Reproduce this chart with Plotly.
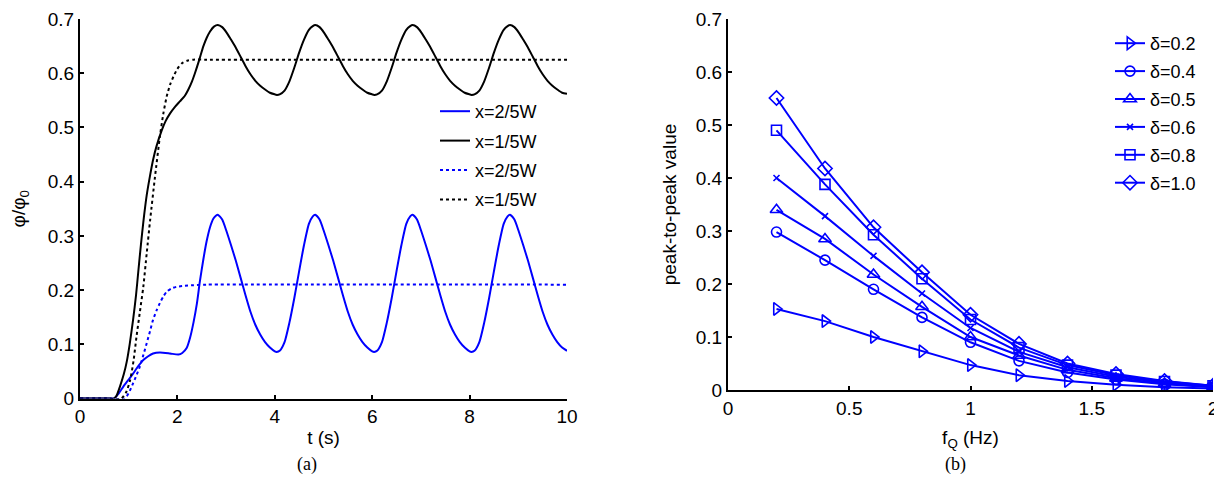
import plotly.graph_objects as go

# ---------------- Panel (a) data ----------------
t_black_solid = [0, 0.3, 0.6, 0.70, 0.75, 0.82, 0.90, 0.96, 1.02, 1.09, 1.15, 1.20, 1.25, 1.30, 1.37, 1.44, 1.50, 1.57, 1.68,
                 1.76, 1.85, 1.95, 2.05, 2.15, 2.22, 2.30, 2.36, 2.45, 2.53, 2.60, 2.67, 2.75, 2.83,
                 2.92, 3.01, 3.10, 3.20, 3.30, 3.40, 3.50, 3.60, 3.70, 3.80, 3.90, 4.00, 4.04, 4.10, 4.20, 4.30, 4.40, 4.50, 4.60, 4.70, 4.78, 4.83,
                 4.92, 5.01, 5.10, 5.20, 5.30, 5.40, 5.50, 5.60, 5.70, 5.80, 5.90, 6.00, 6.04, 6.10, 6.20, 6.30, 6.40, 6.50, 6.60, 6.70, 6.78, 6.83,
                 6.92, 7.01, 7.10, 7.20, 7.30, 7.40, 7.50, 7.60, 7.70, 7.80, 7.90, 8.00, 8.04, 8.10, 8.20, 8.30, 8.40, 8.50, 8.60, 8.70, 8.78, 8.83,
                 8.92, 9.01, 9.10, 9.20, 9.30, 9.40, 9.50, 9.60, 9.70, 9.80, 9.90, 10.0]
v_black_solid = [0, 0, 0, 0.0, 0.005, 0.022, 0.045, 0.068, 0.100, 0.145, 0.190, 0.237, 0.283, 0.325, 0.375, 0.412, 0.440, 0.465, 0.495,
                 0.512, 0.526, 0.538, 0.548, 0.558, 0.569, 0.585, 0.600, 0.625, 0.649, 0.665, 0.677, 0.686, 0.689,
                 0.685, 0.675, 0.662, 0.647, 0.630, 0.613, 0.598, 0.586, 0.577, 0.570, 0.564, 0.561, 0.560, 0.561, 0.568, 0.585, 0.610, 0.638, 0.662, 0.680, 0.687, 0.689,
                 0.685, 0.675, 0.662, 0.647, 0.630, 0.613, 0.598, 0.586, 0.577, 0.570, 0.564, 0.561, 0.560, 0.561, 0.568, 0.585, 0.610, 0.638, 0.662, 0.680, 0.687, 0.689,
                 0.685, 0.675, 0.662, 0.647, 0.630, 0.613, 0.598, 0.586, 0.577, 0.570, 0.564, 0.561, 0.560, 0.561, 0.568, 0.585, 0.610, 0.638, 0.662, 0.680, 0.687, 0.689,
                 0.685, 0.675, 0.662, 0.647, 0.630, 0.613, 0.598, 0.586, 0.577, 0.570, 0.564, 0.562]

t_blue_solid = [0, 0.3, 0.6, 0.70, 0.80, 0.89, 1.00, 1.09, 1.20, 1.30, 1.40, 1.50, 1.64, 1.85, 2.02, 2.10, 2.19, 2.26, 2.33, 2.40, 2.46, 2.53, 2.60, 2.67, 2.74, 2.79, 2.83,
                2.92, 3.01, 3.10, 3.20, 3.30, 3.40, 3.50, 3.60, 3.70, 3.80, 3.90, 4.00, 4.04, 4.10, 4.20, 4.30, 4.40, 4.50, 4.60, 4.70, 4.78, 4.83,
                4.92, 5.01, 5.10, 5.20, 5.30, 5.40, 5.50, 5.60, 5.70, 5.80, 5.90, 6.00, 6.04, 6.10, 6.20, 6.30, 6.40, 6.50, 6.60, 6.70, 6.78, 6.83,
                6.92, 7.01, 7.10, 7.20, 7.30, 7.40, 7.50, 7.60, 7.70, 7.80, 7.90, 8.00, 8.04, 8.10, 8.20, 8.30, 8.40, 8.50, 8.60, 8.70, 8.78, 8.83,
                8.92, 9.01, 9.10, 9.20, 9.30, 9.40, 9.50, 9.60, 9.70, 9.80, 9.90, 10.0]
v_blue_solid = [0, 0, 0, 0.0, 0.010, 0.022, 0.035, 0.046, 0.060, 0.071, 0.078, 0.083, 0.085, 0.083, 0.081, 0.084, 0.093, 0.112, 0.140, 0.175, 0.215, 0.255, 0.290, 0.316, 0.332, 0.337, 0.339,
                0.330, 0.308, 0.283, 0.254, 0.222, 0.190, 0.160, 0.136, 0.118, 0.104, 0.094, 0.087, 0.086, 0.088, 0.104, 0.140, 0.185, 0.235, 0.283, 0.322, 0.336, 0.339,
                0.330, 0.308, 0.283, 0.254, 0.222, 0.190, 0.160, 0.136, 0.118, 0.104, 0.094, 0.087, 0.086, 0.088, 0.104, 0.140, 0.185, 0.235, 0.283, 0.322, 0.336, 0.339,
                0.330, 0.308, 0.283, 0.254, 0.222, 0.190, 0.160, 0.136, 0.118, 0.104, 0.094, 0.087, 0.086, 0.088, 0.104, 0.140, 0.185, 0.235, 0.283, 0.322, 0.336, 0.339,
                0.330, 0.308, 0.283, 0.254, 0.222, 0.190, 0.160, 0.136, 0.118, 0.104, 0.094, 0.088]

t_black_dot = [0, 0.5, 0.85, 0.95, 1.03, 1.10, 1.16, 1.23, 1.30, 1.37, 1.44, 1.54, 1.64, 1.71, 1.78, 1.85, 1.92, 2.00, 2.09, 2.20, 2.33, 2.6, 10.0]
v_black_dot = [0, 0, 0, 0.012, 0.034, 0.070, 0.114, 0.160, 0.206, 0.268, 0.329, 0.409, 0.483, 0.525, 0.557, 0.579, 0.594, 0.608, 0.618, 0.623, 0.625, 0.625, 0.625]

t_blue_dot = [0, 0.5, 0.92, 1.00, 1.09, 1.16, 1.23, 1.30, 1.37, 1.44, 1.50, 1.57, 1.64, 1.71, 1.78, 1.88, 1.98, 2.15, 2.33, 2.6, 10.0]
v_blue_dot = [0, 0, 0, 0.010, 0.028, 0.043, 0.059, 0.080, 0.102, 0.125, 0.145, 0.162, 0.176, 0.188, 0.197, 0.203, 0.206, 0.208, 0.209, 0.210, 0.210]

# ---------------- Panel (b) data ----------------
fq = [0.2, 0.4, 0.6, 0.8, 1.0, 1.2, 1.4, 1.6, 1.8, 2.0]
pp_d02 = [0.153, 0.130, 0.100, 0.073, 0.047, 0.028, 0.017, 0.010, 0.005, 0.003]
pp_d04 = [0.298, 0.245, 0.190, 0.137, 0.090, 0.055, 0.033, 0.020, 0.011, 0.005]
pp_d05 = [0.340, 0.285, 0.218, 0.157, 0.100, 0.065, 0.038, 0.022, 0.012, 0.006]
pp_d06 = [0.400, 0.328, 0.253, 0.182, 0.117, 0.072, 0.043, 0.025, 0.014, 0.007]
pp_d08 = [0.490, 0.388, 0.293, 0.210, 0.133, 0.080, 0.047, 0.028, 0.016, 0.008]
pp_d10 = [0.551, 0.418, 0.307, 0.222, 0.142, 0.087, 0.050, 0.030, 0.017, 0.008]

ytick_vals = [0, 0.1, 0.2, 0.3, 0.4, 0.5, 0.6, 0.7]
ytick_text = ["0", "0.1", "0.2", "0.3", "0.4", "0.5", "0.6", "0.7"]

BLUE = "#0000FF"
FONT = "Liberation Sans, Arial, sans-serif"
FS = 19

# The page body has an 8px margin, so the figure is made 8px smaller
# and screen pixels are converted to paper fractions with that offset.
OFF = 8
W = 1222 - OFF
H = 477 - OFF


def px(x):
    return (x - OFF) / W


def py(y):
    return 1 - (y - OFF) / H


fig = go.Figure()

left_series = [
    (t_blue_solid, v_blue_solid, "x=2/5W", BLUE, "solid"),
    (t_black_solid, v_black_solid, "x=1/5W", "#000000", "solid"),
    (t_blue_dot, v_blue_dot, "x=2/5W", BLUE, "dot"),
    (t_black_dot, v_black_dot, "x=1/5W", "#000000", "dot"),
]
for i, (tx, vy, name, col, dash) in enumerate(left_series):
    fig.add_trace(go.Scatter(
        x=tx, y=vy, name=name, mode="lines",
        line=dict(color=col, width=2, dash=dash, shape="spline", smoothing=0.6),
        xaxis="x", yaxis="y", legend="legend", legendgroup=f"a{i}",
    ))

right_series = [
    (pp_d02, "δ=0.2", "triangle-right-open", 11),
    (pp_d04, "δ=0.4", "circle-open", 10),
    (pp_d05, "δ=0.5", "triangle-up-open", 11),
    (pp_d06, "δ=0.6", "x-thin-open", 6),
    (pp_d08, "δ=0.8", "square-open", 10),
    (pp_d10, "δ=1.0", "diamond-open", 11),
]
for i, (vals, name, sym, sz) in enumerate(right_series):
    fig.add_trace(go.Scatter(
        x=fq, y=vals, name=name, mode="lines+markers",
        line=dict(color=BLUE, width=2),
        marker=dict(symbol=sym, size=sz, color=BLUE, line=dict(color=BLUE, width=1.6)),
        xaxis="x2", yaxis="y2", legend="legend2", legendgroup=f"b{i}",
    ))

axis_common = dict(
    showline=True, linecolor="black", linewidth=2,
    ticks="inside", ticklen=4, tickwidth=1.5, tickcolor="black",
    showgrid=False, zeroline=False, automargin=False,
    tickfont=dict(family=FONT, size=FS, color="black"),
    mirror=False,
)

fig.update_layout(
    width=W, height=H,
    margin=dict(l=0, r=0, t=0, b=0),
    paper_bgcolor="white", plot_bgcolor="white",
    font=dict(family=FONT, size=FS, color="black"),
    xaxis=dict(domain=[px(80), px(567)], range=[0, 10], tickvals=[0, 2, 4, 6, 8, 10],
               anchor="y", title=dict(text="t (s)", standoff=4, font=dict(family=FONT, size=FS)),
               **axis_common),
    yaxis=dict(domain=[py(398.5), py(19)], range=[0, 0.7],
               tickvals=ytick_vals, ticktext=ytick_text,
               anchor="x", title=dict(text="φ/φ<sub>0</sub>", standoff=21, font=dict(family=FONT, size=FS)),
               **axis_common),
    xaxis2=dict(domain=[px(728), px(1213)], range=[0, 2], tickvals=[0, 0.5, 1, 1.5, 2],
                ticktext=["0", "0.5", "1", "1.5", "2"],
                anchor="y2", title=dict(text="f<sub>Q</sub> (Hz)", standoff=13, font=dict(family=FONT, size=FS)),
                **axis_common),
    yaxis2=dict(domain=[py(390), py(19)], range=[0, 0.7],
                tickvals=ytick_vals, ticktext=ytick_text,
                anchor="x2", title=dict(text="peak-to-peak value", standoff=14, font=dict(family=FONT, size=FS)),
                **axis_common),
    legend=dict(x=px(435), y=py(93), xanchor="left", yanchor="top",
                bgcolor="rgba(0,0,0,0)", font=dict(family=FONT, size=FS - 1), tracegroupgap=3,
                itemwidth=30),
    legend2=dict(x=px(1110), y=py(25), xanchor="left", yanchor="top",
                 bgcolor="rgba(0,0,0,0)", font=dict(family=FONT, size=FS - 1), tracegroupgap=1.5,
                 itemwidth=30),
    showlegend=True,
    annotations=[
        dict(text="(a)", x=px(307), y=py(464), xref="paper", yref="paper",
             showarrow=False, font=dict(family="Liberation Serif, serif", size=18), xanchor="center", yanchor="middle"),
        dict(text="(b)", x=px(955), y=py(464), xref="paper", yref="paper",
             showarrow=False, font=dict(family="Liberation Serif, serif", size=18), xanchor="center", yanchor="middle"),
    ],
)

fig.write_html("out.html")
